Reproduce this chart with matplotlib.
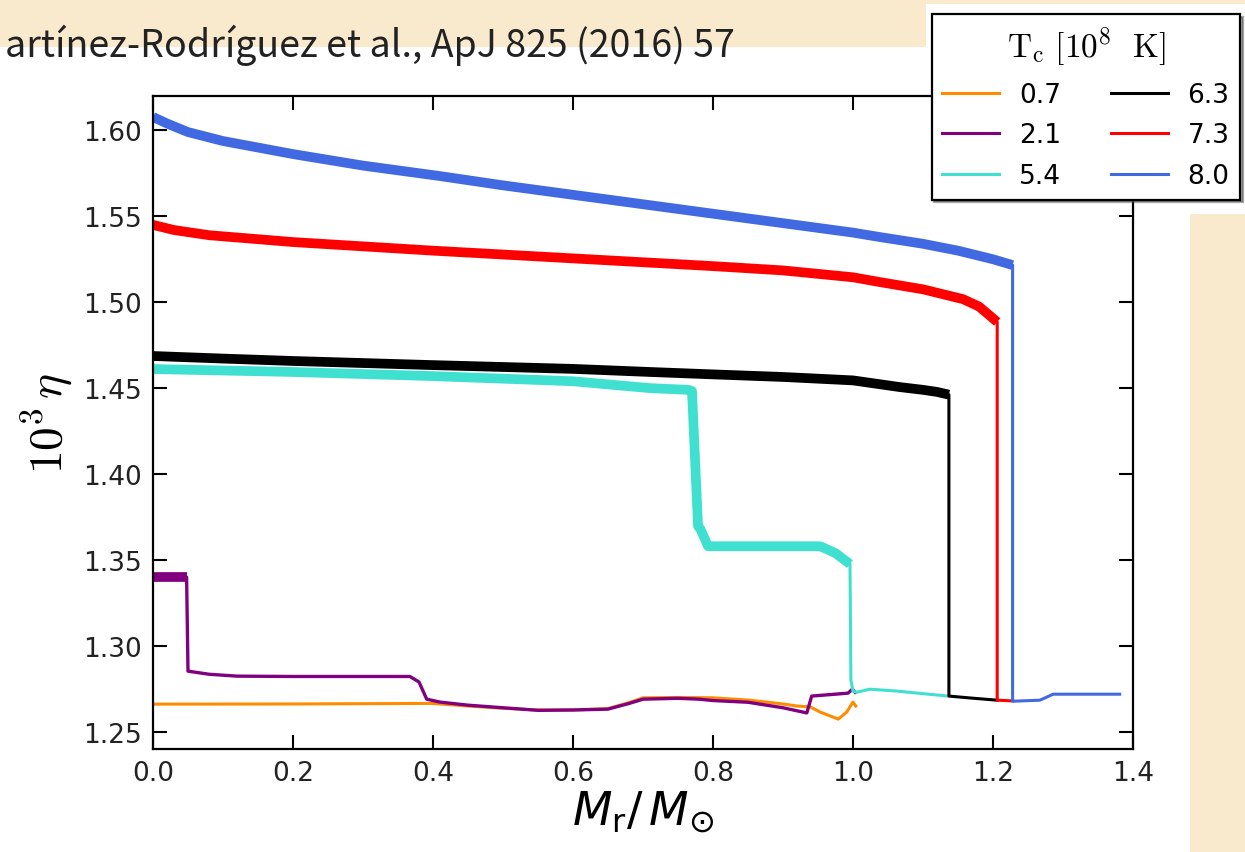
import matplotlib
matplotlib.use("Agg")
import matplotlib.pyplot as plt
from matplotlib.patches import Rectangle
from matplotlib.font_manager import FontProperties

plt.rcParams["font.family"] = ["DejaVu Sans"]

# ---------------- data ----------------
labels = ["0.7", "2.1", "5.4", "6.3", "7.3", "8.0"]
colors = ["darkorange", "purple", "turquoise", "black", "red", "royalblue"]

x_07 = [0.0, 0.2, 0.38, 0.4, 0.45, 0.5, 0.55, 0.6, 0.65, 0.68, 0.7, 0.75, 0.8, 0.85, 0.9, 0.92, 0.939, 0.953, 0.979, 0.991, 1.0, 1.004]
y_07 = [1.2661, 1.2662, 1.2665, 1.2665, 1.2650, 1.2637, 1.2627, 1.2627, 1.2635, 1.2670, 1.2698, 1.2700, 1.2698, 1.2685, 1.2662, 1.2650, 1.2645, 1.2615, 1.2574, 1.2615, 1.2673, 1.2650]

x_21 = [0.0, 0.048, 0.05, 0.08, 0.12, 0.2, 0.3, 0.367, 0.38, 0.391, 0.41, 0.45, 0.5, 0.55, 0.6, 0.65, 0.68, 0.7, 0.75, 0.78, 0.8, 0.85, 0.9, 0.934, 0.941, 0.993, 0.999, 1.003]
y_21 = [1.3400, 1.3400, 1.2853, 1.2835, 1.2824, 1.2822, 1.2822, 1.2822, 1.2790, 1.2690, 1.2673, 1.2655, 1.2640, 1.2625, 1.2627, 1.2632, 1.2665, 1.2690, 1.2695, 1.2690, 1.2682, 1.2672, 1.2640, 1.2610, 1.2708, 1.2725, 1.2748, 1.2730]

x_54 = [0.0, 0.2, 0.4, 0.6, 0.71, 0.765, 0.770, 0.7786, 0.782, 0.793, 0.85, 0.953, 0.975, 0.9957, 0.997, 1.0, 1.005, 1.024, 1.06, 1.1, 1.136]
y_54 = [1.4611, 1.4594, 1.4570, 1.4540, 1.4500, 1.4490, 1.4483, 1.3697, 1.3680, 1.3580, 1.3580, 1.3580, 1.3540, 1.3476, 1.2800, 1.2737, 1.2730, 1.2748, 1.2738, 1.2722, 1.2708]

x_63 = [0.0, 0.1, 0.2, 0.4, 0.6, 0.71, 0.8, 0.9, 1.0, 1.067, 1.1, 1.12, 1.137, 1.137, 1.17, 1.206]
y_63 = [1.4687, 1.4672, 1.4658, 1.4634, 1.4612, 1.4594, 1.4580, 1.4565, 1.4545, 1.4506, 1.4490, 1.4478, 1.4462, 1.2708, 1.2696, 1.2684]

x_73 = [0.0, 0.03, 0.08, 0.2, 0.4, 0.6, 0.8, 0.9, 1.0, 1.0386, 1.1, 1.157, 1.18, 1.196, 1.206, 1.206, 1.228]
y_73 = [1.5450, 1.5420, 1.5390, 1.5350, 1.5300, 1.5255, 1.5210, 1.5185, 1.5145, 1.5117, 1.5075, 1.5018, 1.4975, 1.4920, 1.4885, 1.2684, 1.2680]

x_80 = [0.0, 0.02, 0.05, 0.1, 0.2, 0.3, 0.41, 0.5, 0.6, 0.7, 0.8, 0.9, 1.0, 1.0386, 1.1, 1.15, 1.2, 1.228, 1.228, 1.267, 1.286, 1.381]
y_80 = [1.6078, 1.6040, 1.5990, 1.5938, 1.5862, 1.5795, 1.5734, 1.5680, 1.5625, 1.5570, 1.5515, 1.5460, 1.5405, 1.5379, 1.5340, 1.5300, 1.5250, 1.5216, 1.2678, 1.2684, 1.2719, 1.2719]

series_x = [x_07, x_21, x_54, x_63, x_73, x_80]
series_y = [y_07, y_21, y_54, y_63, y_73, y_80]

x_ticks = [0.0, 0.2, 0.4, 0.6, 0.8, 1.0, 1.2, 1.4]
y_ticks = [1.25, 1.30, 1.35, 1.40, 1.45, 1.50, 1.55, 1.60]

# ---------------- style ----------------
# number of leading points drawn as a thick band (dense part of each profile)
n_thick = [0, 2, 14, 13, 15, 18]
thin_lw = [2.2, 2.4, 2.2, 2.2, 2.2, 2.2]
thick_lw = 7.0

W, H = 1245, 853
fig = plt.figure(figsize=(W / 100, H / 100), dpi=100)
parch = "#f9eacd"
fig.patch.set_facecolor(parch)
# white panels (screenshot look)
fig.patches.append(Rectangle((0, 0), 1190 / W, (H - 48) / H, transform=fig.transFigure,
                             facecolor="white", edgecolor="none", zorder=-10))
fig.patches.append(Rectangle((926 / W, (H - 215) / H), (W - 926) / W, 210 / H,
                             transform=fig.transFigure, facecolor="white", edgecolor="none", zorder=-10))

ax = fig.add_axes([153 / W, (H - 750) / H, (1133 - 153) / W, (750 - 97) / H])
ax.set_xlim(0, 1.4)
ax.set_ylim(1.24, 1.62)

handles = []
for xs, ys, c, lab, nt, tl in zip(series_x, series_y, colors, labels, n_thick, thin_lw):
    h, = ax.plot(xs, ys, color=c, lw=tl, label=lab, solid_joinstyle="round")
    if nt > 1:
        ax.plot(xs[:nt], ys[:nt], color=c, lw=thick_lw, solid_capstyle="butt",
                solid_joinstyle="round")
    handles.append(h)

ax.set_xticks(x_ticks)
ax.set_yticks(y_ticks)
ax.set_xticklabels([f"{v:.1f}" for v in x_ticks])
ax.set_yticklabels([f"{v:.2f}" for v in y_ticks])
ax.tick_params(direction="in", length=10, width=1.5, top=True, right=True,
               labelsize=19, pad=8, labelcolor="#222222")
for sp in ax.spines.values():
    sp.set_linewidth(1.6)

ax.set_xlabel(r"$M_{\mathrm{r}}/\,M_{\odot}$", fontsize=33, math_fontfamily="dejavusans", labelpad=2)
ax.set_ylabel(r"$10^3\,\eta$", fontsize=34, math_fontfamily="cm", labelpad=6)

leg = fig.legend(handles=handles, ncol=2, loc="upper right",
                 bbox_to_anchor=(1240 / W, 1 - 15 / H), borderaxespad=0, fontsize=19,
                 title=r"$\mathrm{T_c\ [10^8\ \ K]}$",
                 title_fontproperties=FontProperties(size=24, math_fontfamily="cm"),
                 frameon=True, fancybox=False, shadow=True, framealpha=1,
                 edgecolor="black", handlelength=2.15, labelspacing=0.55,
                 columnspacing=1.9, borderpad=0.4, handletextpad=0.75)
leg.get_frame().set_linewidth(1.6)
for l in leg.get_lines():
    l.set_linewidth(2.2)

fig.text(5 / W, 1 - 45 / H, "artínez-Rodríguez et al., ApJ 825 (2016) 57",
         fontsize=27, family=["Noto Sans CJK JP", "DejaVu Sans"], color="#222222",
         va="center", ha="left")

fig.savefig("out.png", dpi=100, facecolor=fig.get_facecolor())
